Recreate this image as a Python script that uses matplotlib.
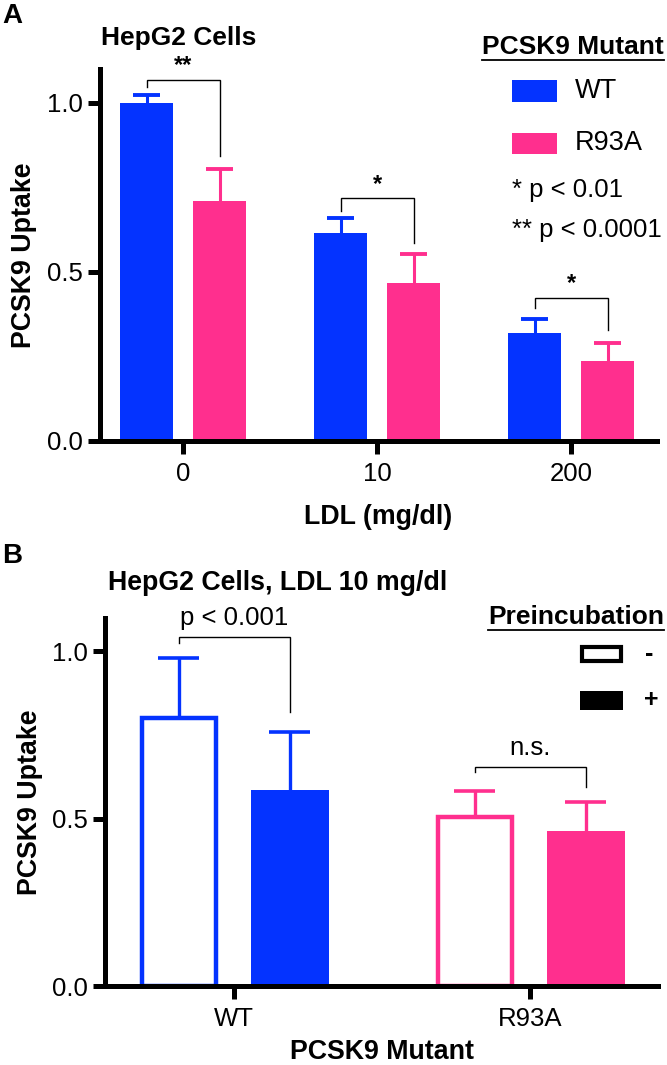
import matplotlib
matplotlib.use("Agg")
import matplotlib.pyplot as plt
import numpy as np
from matplotlib.patches import Rectangle
from matplotlib.lines import Line2D

plt.rcParams['font.family'] = ['Liberation Sans', 'DejaVu Sans']

BLUE = '#0433ff'
PINK = '#ff2f8e'

# panel A: PCSK9 uptake vs LDL
ldl_levels = ['0', '10', '200']
wt_mean = [1.0, 0.614, 0.319]
wt_err = [0.023, 0.045, 0.041]
r93a_mean = [0.71, 0.467, 0.236]
r93a_err = [0.095, 0.085, 0.053]
sig_a = ['**', '*', '*']
bracket_a_top = [1.068, 0.717, 0.422]
bracket_a_left = [1.047, 0.68, 0.392]
bracket_a_right = [0.843, 0.585, 0.328]

# panel B: preincubation, LDL 10 mg/dl
mutants = ['WT', 'R93A']
mutant_colors = [BLUE, PINK]
pre_minus = [0.80, 0.504]
pre_minus_err = [0.179, 0.078]
pre_plus = [0.585, 0.463]
pre_plus_err = [0.173, 0.086]
sig_b = ['p < 0.001', 'n.s.']
bracket_b_top = [1.042, 0.654]
bracket_b_left = [1.024, 0.639]
bracket_b_right = [0.82, 0.594]

W, H = 667, 1065
fig = plt.figure(figsize=(W / 100, H / 100), dpi=100)


def px_axes(l, t, r, b):
    return fig.add_axes([l / W, 1 - b / H, (r - l) / W, (b - t) / H])


def style_axes(ax):
    for s in ['top', 'right']:
        ax.spines[s].set_visible(False)
    for s in ['left', 'bottom']:
        ax.spines[s].set_linewidth(3.6)
    ax.tick_params(axis='both', length=9, width=3.6, labelsize=18.5)
    ax.tick_params(axis='y', pad=3)
    ax.tick_params(axis='x', pad=6)
    ax.set_ylim(0, 1.1)
    ax.set_yticks([0, 0.5, 1.0])
    ax.set_yticklabels(['0.0', '0.5', '1.0'])


def err_up(ax, x, y, e, color, cap, lw, clw):
    ax.vlines(x, y, y + e, color=color, lw=lw, zorder=3)
    ax.hlines(y + e, x - cap, x + cap, color=color, lw=clw, zorder=3)


def bracket(ax, x1, x2, top, yl, yr):
    ax.plot([x1, x1, x2, x2], [yl, top, top, yr], color='black', lw=1.0,
            solid_joinstyle='miter', zorder=4)


# ---------- panel A ----------
axA = px_axes(100, 69, 657, 440.7)
style_axes(axA)
x = np.arange(len(ldl_levels))
off, bw = 0.188, 0.273
axA.bar(x - off, wt_mean, bw, color=BLUE, zorder=2)
axA.bar(x + off, r93a_mean, bw, color=PINK, zorder=2)
for i in range(len(x)):
    err_up(axA, x[i] - off, wt_mean[i], wt_err[i], BLUE, 0.07, 2.2, 2.8)
    err_up(axA, x[i] + off, r93a_mean[i], r93a_err[i], PINK, 0.07, 2.2, 2.8)
    bracket(axA, x[i] - off, x[i] + off, bracket_a_top[i],
            bracket_a_left[i], bracket_a_right[i])
    axA.text(x[i], bracket_a_top[i] + 0.008, sig_a[i], ha='center', va='bottom',
             fontsize=17, fontweight='bold', clip_on=False)
axA.set_xlim(-0.428, 2.443)
axA.set_xticks(x)
axA.set_xticklabels(ldl_levels)
axA.set_xlabel('LDL (mg/dl)', fontsize=19.3, fontweight='bold')
axA.xaxis.set_label_coords(0.5, -0.204)
axA.xaxis.label.set_va('center')
axA.set_ylabel('PCSK9 Uptake', fontsize=19.3, fontweight='bold')
axA.yaxis.set_label_coords(-0.137, 0.5)
axA.yaxis.label.set_va('center')

# ---------- panel B ----------
axB = px_axes(105, 618, 658, 986)
style_axes(axB)
xb = np.arange(len(mutants))
offb = 0.1875
axB.bar(xb - offb, pre_minus, 0.25, color='white', edgecolor=mutant_colors,
        linewidth=3.2, zorder=2)
axB.bar(xb + offb, pre_plus, 0.264, color=mutant_colors, zorder=2)
for i in range(len(xb)):
    c = mutant_colors[i]
    err_up(axB, xb[i] - offb, pre_minus[i], pre_minus_err[i], c, 0.068, 2.4, 2.6)
    err_up(axB, xb[i] + offb, pre_plus[i], pre_plus_err[i], c, 0.068, 2.4, 2.6)
    bracket(axB, xb[i] - offb, xb[i] + offb, bracket_b_top[i],
            bracket_b_left[i], bracket_b_right[i])
    axB.text(xb[i], bracket_b_top[i] + 0.022, sig_b[i], ha='center', va='bottom',
             fontsize=18.5, clip_on=False)
axB.set_xlim(-0.436, 1.432)
axB.set_xticks(xb)
axB.set_xticklabels(mutants)
axB.set_xlabel('PCSK9 Mutant', fontsize=19.3, fontweight='bold')
axB.xaxis.set_label_coords(0.5, -0.179)
axB.xaxis.label.set_va('center')
axB.set_ylabel('PCSK9 Uptake', fontsize=19.3, fontweight='bold')
axB.yaxis.set_label_coords(-0.136, 0.5)
axB.yaxis.label.set_va('center')


# ---------- figure texts, legends ----------
def ftext(xp, yp, s, **kw):
    return fig.text(xp / W, 1 - yp / H, s, **kw)


def frect(l, t, r, b, **kw):
    fig.add_artist(Rectangle((l / W, 1 - b / H), (r - l) / W, (b - t) / H,
                             transform=fig.transFigure, **kw))


ftext(2, 16, 'A', fontsize=20, fontweight='bold', va='center')
ftext(2, 556, 'B', fontsize=20, fontweight='bold', va='center')
ftext(179, 38, 'HepG2 Cells', fontsize=19, fontweight='bold', ha='center', va='center')
ftext(278, 583, 'HepG2 Cells, LDL 10 mg/dl', fontsize=19.3, fontweight='bold',
      ha='center', va='center')

titles = [ftext(664, 47, 'PCSK9 Mutant', fontsize=19, fontweight='bold',
                ha='right', va='center'),
          ftext(664, 617, 'Preincubation', fontsize=19, fontweight='bold',
                ha='right', va='center')]

frect(512, 80, 557, 102, facecolor=BLUE, edgecolor='none')
ftext(575, 91, 'WT', fontsize=19.5, va='center')
frect(512, 133, 557, 154, facecolor=PINK, edgecolor='none')
ftext(575, 143, 'R93A', fontsize=19.5, va='center')
ftext(512, 190, '* p < 0.01', fontsize=18.5, va='center')
ftext(512, 230, '** p < 0.0001', fontsize=18.5, va='center')

frect(582, 647, 621, 661, facecolor='white', edgecolor='black', linewidth=3)
ftext(645, 654, '-', fontsize=18, fontweight='bold', va='center')
frect(580, 691, 623, 710, facecolor='black', edgecolor='black', linewidth=0)
ftext(644, 700, '+', fontsize=18, fontweight='bold', va='center')

fig.canvas.draw()
r = fig.canvas.get_renderer()
for t in titles:
    bb = t.get_window_extent(r)
    yline = bb.y0 - 1
    fig.add_artist(Line2D([bb.x0 / W, bb.x1 / W], [yline / H, yline / H],
                          transform=fig.transFigure, color='black', lw=1.3))

fig.savefig('out.png', dpi=100)
